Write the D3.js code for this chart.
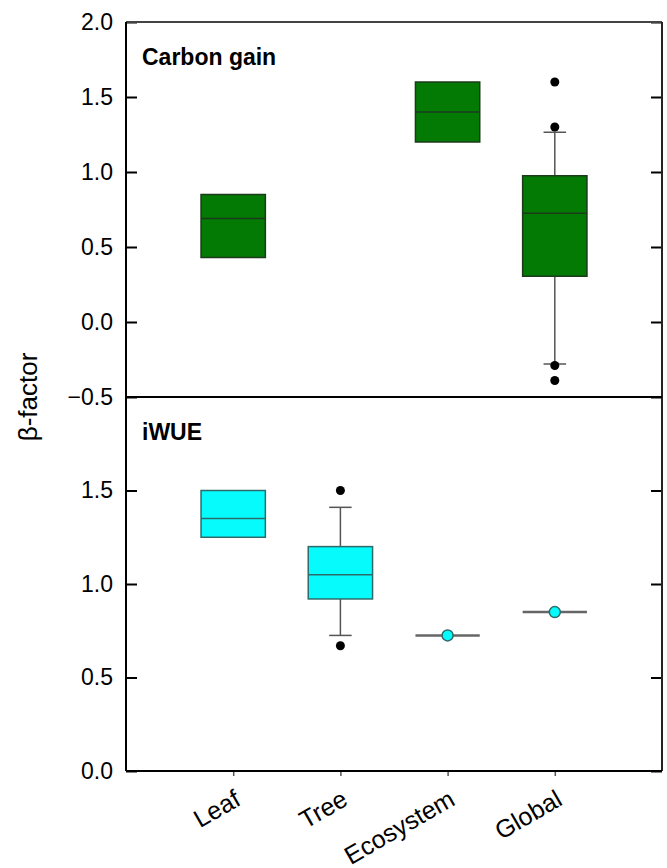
<!DOCTYPE html>
<html>
<head>
<meta charset="utf-8">
<script src="https://cdn.jsdelivr.net/npm/d3@7"></script>
<style>
  body { margin: 0; background: #fff; }
  text { font-family: "Liberation Sans", Arial, sans-serif; }
</style>
</head>
<body>
<div id="chart"></div>
<script>
// categories on the x axis
const categories = ["Leaf", "Tree", "Ecosystem", "Global"];

// Carbon gain panel (null = no data for that category)
const carbonQ1        = [0.43, null, 1.20, 0.305];
const carbonMedian    = [0.69, null, 1.40, 0.725];
const carbonQ3        = [0.85, null, 1.60, 0.975];
const carbonWhiskLow  = [null, null, null, -0.28];
const carbonWhiskHigh = [null, null, null, 1.265];
const carbonOutliers  = [[], [], [], [1.6, 1.3, -0.29, -0.39]];

// iWUE panel
const iwueQ1        = [1.25, 0.92, 0.725, 0.85];
const iwueMedian    = [1.35, 1.05, 0.725, 0.85];
const iwueQ3        = [1.50, 1.20, 0.725, 0.85];
const iwueWhiskLow  = [null, 0.725, null, null];
const iwueWhiskHigh = [null, 1.41, null, null];
const iwueOutliers  = [[], [1.5, 0.67], [], []];

const carbonTicks = [-0.5, 0, 0.5, 1.0, 1.5, 2.0];
const iwueTicks   = [0, 0.5, 1.0, 1.5];

const W = 667, H = 868;
const plotLeft = 126, plotRight = 662, plotTop = 22, plotMid = 397, plotBottom = 771;

const svg = d3.select("#chart").append("svg")
    .attr("width", W)
    .attr("height", H);

const x = d3.scaleLinear().domain([0, 5]).range([plotLeft, plotRight]);
const boxW = x(0.6) - x(0);
const capW = x(0.21) - x(0);

function build(panel){
    return categories.map(function(c, i){
        return {
            name: c,
            pos: i + 1,
            q1: panel.q1[i],
            med: panel.med[i],
            q3: panel.q3[i],
            lo: panel.lo[i],
            hi: panel.hi[i],
            out: panel.out[i]
        }
    }).filter(d => d.med !== null)
}

function drawPanel(rows, y, ticks, fill, stroke, label, y0){
    var g = svg.append("g");

    // left axis, ticks inward
    g.append("g")
        .attr("transform", "translate(" + plotLeft + ",0)")
        .call(d3.axisLeft(y).tickValues(ticks).tickSizeInner(-11).tickSizeOuter(0)
              .tickPadding(13).tickFormat(d3.format(".1f")))
        .call(a => a.select(".domain").remove())
        .call(a => a.selectAll("line").attr("stroke", "#000").attr("stroke-width", 2))
        .call(a => a.selectAll("text").attr("font-size", 23).attr("fill", "#000"));

    // right axis ticks
    g.append("g")
        .attr("transform", "translate(" + plotRight + ",0)")
        .call(d3.axisRight(y).tickValues(ticks).tickSizeInner(-11).tickSizeOuter(0).tickFormat(""))
        .call(a => a.select(".domain").remove())
        .call(a => a.selectAll("line").attr("stroke", "#000").attr("stroke-width", 2));

    var box = g.selectAll(".box")
        .data(rows)
        .enter()
        .append("g")
        .attr("class", "box");

    // whiskers
    box.filter(d => d.lo !== null).each(function(d){
        var s = d3.select(this);
        s.append("line")
            .attr("x1", x(d.pos)).attr("x2", x(d.pos))
            .attr("y1", y(d.hi)).attr("y2", y(d.q3))
            .attr("stroke", "#555").attr("stroke-width", 1.5);
        s.append("line")
            .attr("x1", x(d.pos)).attr("x2", x(d.pos))
            .attr("y1", y(d.q1)).attr("y2", y(d.lo))
            .attr("stroke", "#555").attr("stroke-width", 1.5);
        [d.lo, d.hi].forEach(function(v){
            s.append("line")
                .attr("x1", x(d.pos) - capW / 2).attr("x2", x(d.pos) + capW / 2)
                .attr("y1", y(v)).attr("y2", y(v))
                .attr("stroke", "#555").attr("stroke-width", 1.5);
        });
    });

    // boxes with height
    box.filter(d => d.q3 > d.q1).append("rect")
        .attr("x", d => x(d.pos) - boxW / 2)
        .attr("y", d => y(d.q3))
        .attr("width", boxW)
        .attr("height", d => y(d.q1) - y(d.q3))
        .attr("fill", fill)
        .attr("stroke", stroke)
        .attr("stroke-width", 1.5);

    // median lines
    box.append("line")
        .attr("x1", d => x(d.pos) - boxW / 2)
        .attr("x2", d => x(d.pos) + boxW / 2)
        .attr("y1", d => y(d.med))
        .attr("y2", d => y(d.med))
        .attr("stroke", d => d.q3 > d.q1 ? stroke : "#666")
        .attr("stroke-width", d => d.q3 > d.q1 ? 1.5 : 2.5);

    // single-value markers
    box.filter(d => d.q3 === d.q1).append("circle")
        .attr("cx", d => x(d.pos))
        .attr("cy", d => y(d.med))
        .attr("r", 5.5)
        .attr("fill", fill)
        .attr("stroke", "#2d6b6b")
        .attr("stroke-width", 1.5);

    // outliers
    box.each(function(d){
        d3.select(this).selectAll(".out")
            .data(d.out)
            .enter()
            .append("circle")
            .attr("cx", x(d.pos))
            .attr("cy", v => y(v))
            .attr("r", 4.5)
            .attr("fill", "#000");
    });

    g.append("text")
        .attr("x", 142)
        .attr("y", y0 + 43)
        .attr("font-size", 23)
        .attr("font-weight", "bold")
        .text(label);
}

var yCarbon = d3.scaleLinear().domain([-0.5, 2.0]).range([plotMid, plotTop]);
var yIwue = d3.scaleLinear().domain([0, 2.0]).range([plotBottom, plotMid]);

drawPanel(build({q1: carbonQ1, med: carbonMedian, q3: carbonQ3, lo: carbonWhiskLow, hi: carbonWhiskHigh, out: carbonOutliers}),
          yCarbon, carbonTicks, "#037a03", "#1c3a1c", "Carbon gain", plotTop);
drawPanel(build({q1: iwueQ1, med: iwueMedian, q3: iwueQ3, lo: iwueWhiskLow, hi: iwueWhiskHigh, out: iwueOutliers}),
          yIwue, iwueTicks, "#06fcfc", "#2d6b6b", "iWUE", plotMid);

// frame
svg.append("line").attr("x1", plotLeft).attr("x2", plotRight).attr("y1", plotTop).attr("y2", plotTop)
    .attr("stroke", "#444").attr("stroke-width", 2);
svg.append("line").attr("x1", plotRight).attr("x2", plotRight).attr("y1", plotTop).attr("y2", plotBottom)
    .attr("stroke", "#222").attr("stroke-width", 2);
svg.append("line").attr("x1", plotLeft).attr("x2", plotLeft).attr("y1", plotTop).attr("y2", plotBottom)
    .attr("stroke", "#000").attr("stroke-width", 2);
svg.append("line").attr("x1", plotLeft).attr("x2", plotRight).attr("y1", plotMid).attr("y2", plotMid)
    .attr("stroke", "#000").attr("stroke-width", 2);

// bottom axis
var xAxis = svg.append("g")
    .attr("transform", "translate(0," + plotBottom + ")")
    .call(d3.axisBottom(x).tickValues([1, 2, 3, 4]).tickSizeInner(5).tickSizeOuter(0).tickFormat(""));
xAxis.select(".domain").remove();
xAxis.selectAll("line").attr("stroke", "#555").attr("stroke-width", 1.5);
svg.append("line").attr("x1", plotLeft).attr("x2", plotRight).attr("y1", plotBottom).attr("y2", plotBottom)
    .attr("stroke", "#000").attr("stroke-width", 2);

svg.selectAll(".xlab")
    .data(categories)
    .enter()
    .append("text")
    .attr("class", "xlab")
    .attr("text-anchor", "end")
    .attr("font-size", 25)
    .attr("transform", (d, i) => "translate(" + (x(i + 1) + 9) + "," + 804 + ") rotate(-30)")
    .text(d => d);

// y label
svg.append("text")
    .attr("text-anchor", "middle")
    .attr("font-size", 26)
    .attr("transform", "translate(37," + plotMid + ") rotate(-90)")
    .text("β-factor");
</script>
</body>
</html>
